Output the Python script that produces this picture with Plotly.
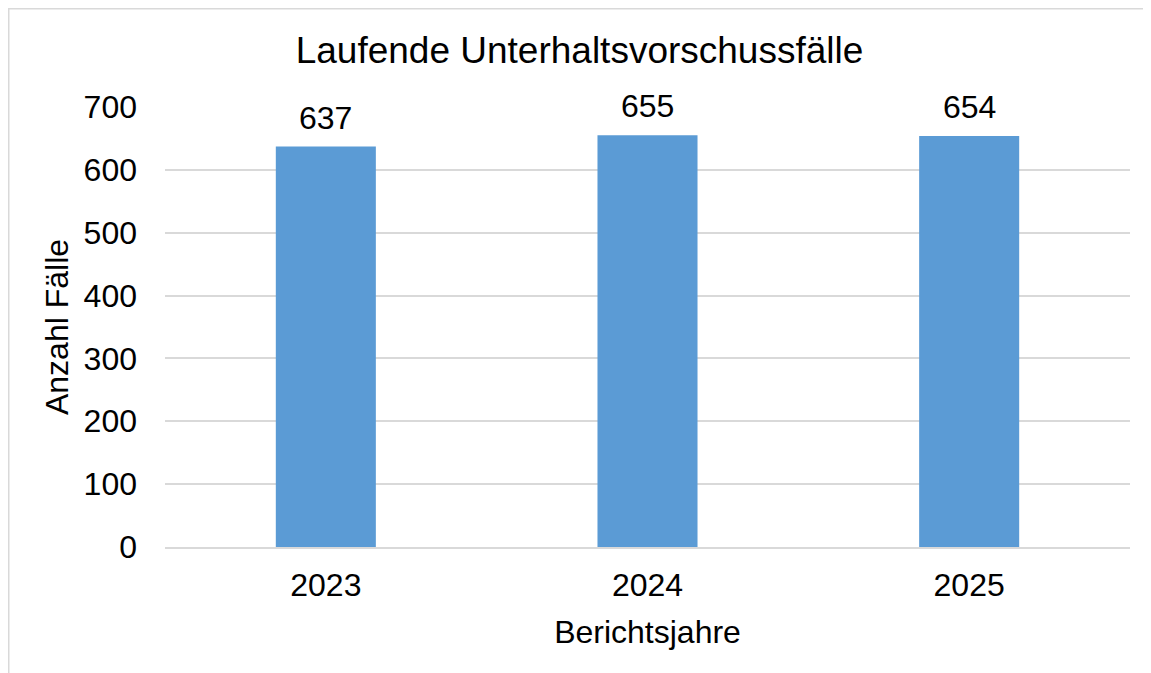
import plotly.graph_objects as go

years = ["2023", "2024", "2025"]
cases = [637, 655, 654]
y_ticks = [0, 100, 200, 300, 400, 500, 600, 700]

FONT = "Liberation Sans, Arial, sans-serif"
W, H = 1151, 673
OFF = 8  # page body offset
ML = 165 - OFF
MT = 107 - OFF
MR = W - (1130 - OFF)
MB = H - (547 - OFF)
pw = W - ML - MR
ph = H - MT - MB

fig = go.Figure(
    go.Bar(
        x=years,
        y=cases,
        marker=dict(color="#5B9BD5", line=dict(width=0)),
        width=0.311,
        hoverinfo="x+y",
    )
)

for i, v in enumerate(cases):
    fig.add_annotation(
        x=i, y=v, xref="x", yref="y",
        text=str(v), showarrow=False,
        yanchor="middle", xanchor="center", yshift=29,
        font=dict(family=FONT, size=32, color="#000000"),
    )

def px_x(px):
    return (px - ML) / pw

def px_y(py):
    return (H - MB - py) / ph

fig.update_layout(
    width=W,
    height=H,
    margin=dict(l=ML, r=MR, t=MT, b=MB),
    paper_bgcolor="white",
    plot_bgcolor="white",
    font=dict(family=FONT, size=32, color="#000000"),
    showlegend=False,
    title=dict(
        text="Laufende Unterhaltsvorschussfälle",
        x=(579.5 - OFF) / W,
        xanchor="center",
        xref="container",
        y=1 - (50 - OFF) / H,
        yanchor="middle",
        yref="container",
        font=dict(family=FONT, size=37, color="#000000"),
    ),
    xaxis=dict(
        type="category",
        categoryorder="array",
        categoryarray=years,
        range=[-0.5, len(years) - 0.5],
        showgrid=False,
        showline=True,
        linecolor="#D9D9D9",
        linewidth=1.5,
        ticks="",
        ticklabelstandoff=9,
        tickfont=dict(family=FONT, size=32, color="#000000"),
        title=dict(text="Berichtsjahre", standoff=18,
                   font=dict(family=FONT, size=32, color="#000000")),
    ),
    yaxis=dict(
        range=[0, 700],
        tickvals=y_ticks,
        ticktext=[str(v) for v in y_ticks],
        showgrid=True,
        gridcolor="#D9D9D9",
        gridwidth=1.5,
        zeroline=False,
        showline=False,
        ticks="",
        ticklabelstandoff=27,
        tickfont=dict(family=FONT, size=32, color="#000000"),
        title=dict(text="Anzahl Fälle", standoff=5,
                   font=dict(family=FONT, size=32, color="#000000")),
    ),
    shapes=[
        dict(
            type="rect",
            xref="paper",
            yref="paper",
            x0=px_x(0.75),
            x1=px_x(W + 20),
            y0=px_y(H + 20),
            y1=px_y(0.75),
            line=dict(color="#D9D9D9", width=1.5),
            fillcolor="rgba(0,0,0,0)",
            layer="below",
        )
    ],
)

fig.write_html("out.html")
